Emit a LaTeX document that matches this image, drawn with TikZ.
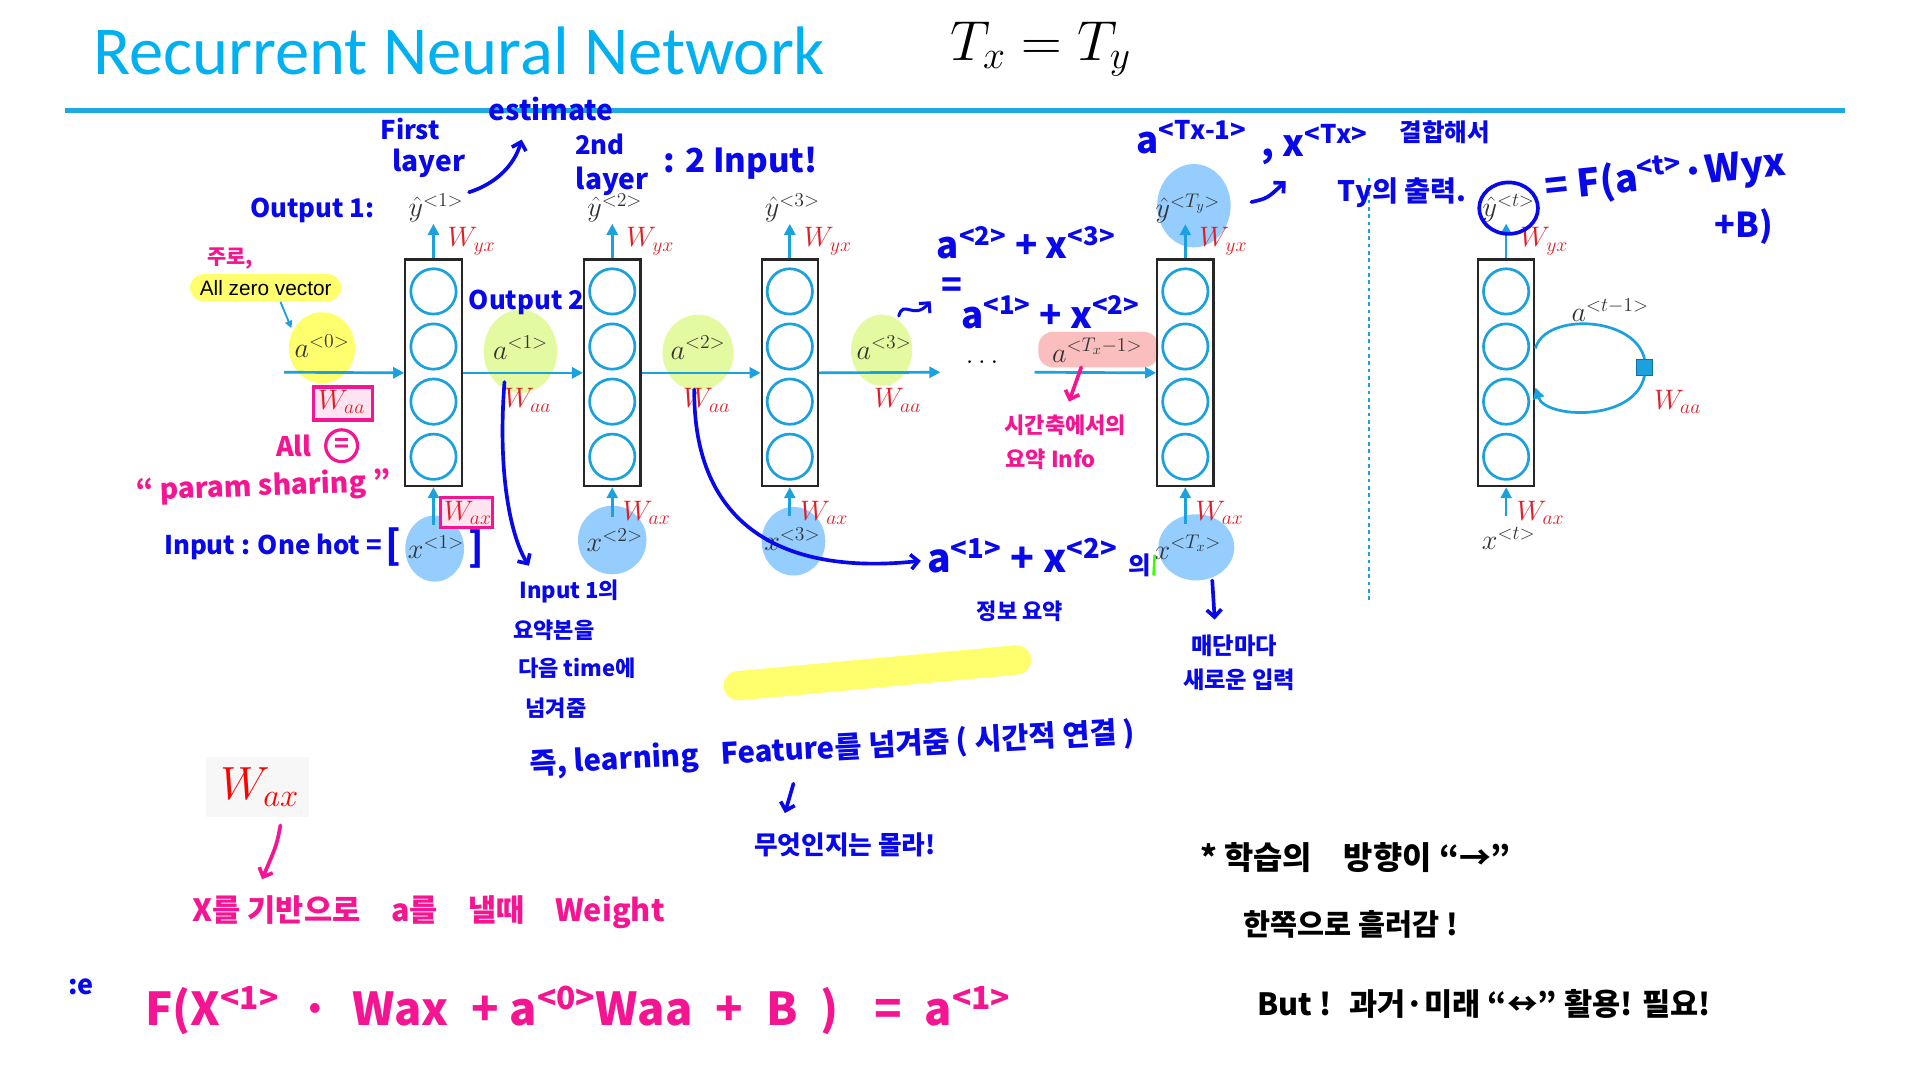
\RequirePackage{fix-cm}
\documentclass[tikz,border=0pt]{standalone}
\usepackage{fontspec}
\setmainfont{Carlito}
\newfontfamily\hand{Noto Sans CJK KR}
\newfontfamily\arialfont{Liberation Sans}
\usetikzlibrary{arrows.meta,positioning}

\definecolor{slidecyan}{RGB}{0,176,240}
\definecolor{rulecyan}{RGB}{30,170,225}
\definecolor{netcyan}{RGB}{27,161,221}
\definecolor{wred}{RGB}{225,30,40}
\definecolor{handblue}{RGB}{8,8,235}
\definecolor{handpink}{RGB}{245,20,145}
\definecolor{yblob}{RGB}{255,255,110}
\definecolor{gblob}{RGB}{228,250,160}
\definecolor{bblob}{RGB}{150,205,255}
\definecolor{rblob}{RGB}{250,190,190}
\definecolor{pboxfill}{RGB}{253,228,240}

\newcommand{\mfont}[1]{\fontsize{#1}{#1}\selectfont}
\newcommand{\hfont}[1]{\hand\bfseries\fontsize{#1}{#1}\selectfont}

\begin{document}
\begin{tikzpicture}[
  x=1pt, y=-1pt,
  cellbox/.style={draw=black!85, line width=1.8pt, minimum width=46pt, minimum height=185pt, inner sep=0pt},
  unit/.style={circle, draw=netcyan, line width=2.2pt, minimum size=37pt, inner sep=0pt},
  flow/.style={netcyan, line width=2.2pt, -{Triangle[length=9pt,width=9pt]}},
  mlab/.style={font=\mfont{23}, text=black!80, inner sep=1pt},
  wlab/.style={font=\mfont{23}, text=wred, inner sep=1pt},
  pbox/.style={draw=handpink, fill=pboxfill, line width=2.6pt},
  zbox/.style={fill=yblob, rounded corners=12pt, font={\arialfont\fontsize{17}{20}\selectfont}, inner xsep=8pt, inner ysep=5pt},
  hb/.style={font={\hfont{#1}}, text=handblue, inner sep=0pt}, hb/.default=20,
  hp/.style={font={\hfont{#1}}, text=handpink, inner sep=0pt}, hp/.default=20,
  hk/.style={font={\hfont{#1}}, text=black, inner sep=0pt}, hk/.default=20,
  pen/.style={handblue, line width=3pt, line cap=round, -{Straight Barb[length=6pt,width=12pt]}},
  ppen/.style={pen, handpink}
]
  \useasboundingbox (0,0) rectangle (1568,882);
  \fill[white] (0,0) rectangle (1568,882);

  % Title
  \node[anchor=west, font=\mfont{56}, text=slidecyan, inner sep=0pt] (title) at (76,42) {Recurrent Neural Network};
  \node[font=\mfont{46}, inner sep=0pt] (txty) at (850,40) {$T_x = T_y$};
  \coordinate (r0) at (53,90);
  \coordinate (r1) at (1507,90);
  \draw[rulecyan, line width=4pt] (r0) -- (r1);
  \draw[netcyan, dashed, line width=1pt] (1118,145) -- (1118,490);

  % Highlights
  \fill[yblob] (263,284) ellipse [x radius=27, y radius=29];
  \fill[gblob] (425,287) ellipse [x radius=30, y radius=34];
  \fill[gblob] (570,288) ellipse [x radius=29, y radius=31];
  \fill[gblob] (720,286) ellipse [x radius=25, y radius=29];
  \fill[rblob, rounded corners=12pt] (848,271) rectangle (946,300);
  \fill[bblob] (355,448) ellipse [x radius=24, y radius=27];
  \fill[bblob] (500,441) ellipse [x radius=28, y radius=28];
  \fill[bblob] (648,442) ellipse [x radius=26, y radius=28];
  \fill[bblob] (977,447) ellipse [x radius=31, y radius=27];
  \fill[bblob] (975,168) ellipse [x radius=30, y radius=34];
  \draw[yblob, line width=24pt, line cap=round] (603,560) -- (830,539);
  \draw[pbox] (256,316) rectangle (304,343);
  \draw[pbox] (360,406) rectangle (402,431);

  % Cells
  \foreach \n/\x in {1/354,2/500,3/645,T/968,t/1230}{
    \node[cellbox] (c\n) at (\x,304.5) {};
    \foreach \k/\y in {1/238,2/283,3/328,4/373}
      \node[unit] (c\n u\k) at (\x,\y) {};
  }

  % Outputs
  \foreach \n/\x/\s in {1/354/1, 2/500/2, 3/645/3, T/968/T_y, t/1230/t}{
    \node[mlab] (y\n) at (\x+2,170) {$\hat{y}^{<\s>}$};
    \node[wlab] (wyx\n) at (\x+31,197) {$W_{yx}$};
    \draw[flow] (c\n.north) -- (c\n.north |- y\n.south);
  }

  % Inputs
  \foreach \n/\x/\s/\yy in {1/354/1/447, 2/500/2/441, 3/645/3/440, T/968/T_x/447, t/1230/t/440}{
    \node[mlab] (x\n) at (\x+2,\yy) {$x^{<\s>}$};
    \node[wlab] (wax\n) at (\x+28,419) {$W_{ax}$};
    \draw[flow] ([yshift=8pt]x\n.north -| c\n.south) -- (c\n.south);
  }

  % Activations
  \node[mlab] (a0) at (263,283) {$a^{<0>}$};
  \node[mlab] (a1) at (425,284) {$a^{<1>}$};
  \node[mlab] (a2) at (570,284) {$a^{<2>}$};
  \node[mlab] (a3) at (722,284) {$a^{<3>}$};
  \node[mlab] (aT) at (896,286) {$a^{<T_x-1>}$};
  \node[wlab] (waa0) at (279,328) {$W_{aa}$};
  \node[wlab] (waa1) at (431,327) {$W_{aa}$};
  \node[wlab] (waa2) at (577,327) {$W_{aa}$};
  \node[wlab] (waa3) at (733,327) {$W_{aa}$};
  \node[font=\mfont{23}, inner sep=0pt] (dots) at (802,296) {$\dots$};
  \coordinate (h0) at (232,304);
  \coordinate (d0) at (768,304);
  \coordinate (d1) at (845,304);
  \draw[flow] (h0) -- (c1.west);
  \draw[flow] (c1.east) -- (c2.west);
  \draw[flow] (c2.east) -- (c3.west);
  \draw[flow] (c3.east) -- (d0);
  \draw[flow] (d1) -- (cT.west);

  % Folded cell
  \node[mlab] (at1) at (1315,253) {$a^{<t-1>}$};
  \node[wlab] (waat) at (1370,328) {$W_{aa}$};
  \node[draw=netcyan!70!black, fill=netcyan, minimum size=13pt, inner sep=0pt, line width=0.8pt] (sq) at (1343,300) {};
  \draw[netcyan, line width=2.2pt] ([yshift=20pt]ct.east) .. controls (1262,255) and (1335,258) .. (sq.north);
  \draw[flow] (sq.south) .. controls (1335,345) and (1262,342) .. ([yshift=-12pt]ct.east);

  % Zero vector note
  \node[zbox] (zero) at (217,235) {All zero vector};
  \coordinate (z1) at (238,268);
  \draw[netcyan, line width=1.5pt, -{Triangle[length=6pt,width=6pt]}] ([xshift=12pt]zero.south) -- (z1);

  % Blue notes
  \node[hb=21] (first) at (335,105) {First};
  \node[hb=23] (layerA) at (350,133) {layer};
  \node[hb=23] (estim) at (450,89) {estimate};
  \coordinate (e0) at (383,157);
  \coordinate (e1) at (426,114);
  \draw[pen] (e0) .. controls (405,150) and (420,135) .. (e1);
  \node[hb=21] (second) at (490,118) {2nd};
  \node[hb=23] (layerB) at (500,148) {layer};
  \node[hb=27] (twoin) at (605,133) {: 2 Input!};
  \node[hb=21] (out1) at (255,172) {Output 1:};
  \node[hb=21] (out2) at (430,247) {Output 2};
  \node[hb=21, anchor=east] (onehot) at (312,447) {Input : One hot =};
  \node[hb=32] (lbr) at (321,447) {[};
  \node[hb=32] (rbr) at (389,448) {]};
  \coordinate (s0) at (412,312);
  \coordinate (s1) at (432,462);
  \draw[pen] (s0) .. controls (406,390) and (418,440) .. (s1);
  \node[hb=18, anchor=west] (sumA) at (424,483) {Input 1의};
  \node[hb=18, anchor=west] (sumB) at (419,515) {요약본을};
  \node[hb=18, anchor=west] (sumC) at (423,546) {다음 time에};
  \node[hb=18, anchor=west] (sumD) at (429,578) {넘겨줌};
  \coordinate (t0) at (567,318);
  \coordinate (t1) at (752,458);
  \draw[pen] (t0) .. controls (566,430) and (640,470) .. (t1);
  \node[hb=32, anchor=west] (combo) at (757,454) {a\textsuperscript{<1>} + x\textsuperscript{<2>}};
  \node[hb=20] (ui) at (931,462) {의};
  \draw[line width=2pt, green!80!yellow] (943,453) -- (942,470);
  \node[hb=18, below=22pt of combo.south, xshift=-2pt] (info) {정보 요약};
  \node[hb=30] (eqA) at (838,198) {a\textsuperscript{<2>} + x\textsuperscript{<3>}};
  \node[hb=28] (eqS) at (777,235) {=};
  \node[hb=30] (eqB) at (858,255) {a\textsuperscript{<1>} + x\textsuperscript{<2>}};
  \coordinate (q0) at (734,258);
  \coordinate (q1) at (760,246);
  \draw[pen, line width=2.5pt] (q0) .. controls (738,244) and (746,262) .. (q1);
  \node[hb=30, anchor=west] (aTx) at (928,112) {a\textsuperscript{<Tx-1>}};
  \node[hb=30, anchor=west] (xTx) at (1030,118) {, x\textsuperscript{<Tx>}};
  \node[hb=20] (join) at (1180,108) {결합해서};
  \coordinate (k0) at (1022,165);
  \coordinate (k1) at (1050,148);
  \draw[pen] (k0) .. controls (1035,162) .. (k1);
  \node[hb=23] (tyout) at (1145,157) {Ty의 출력.};
  \draw[handblue, line width=3pt] (yt.center) ellipse [x radius=24, y radius=21];
  \node[hb=31, anchor=west, rotate=6] (fout) at (1262,154) {= F(a\textsuperscript{<t>}·Wyx};
  \node[hb=28] (fb) at (1424,185) {+B)};
  \coordinate (m0) at (990,474);
  \coordinate (m1) at (992,506);
  \draw[pen] (m0) -- (m1);
  \node[hb=19] (each1) at (1008,527) {매단마다};
  \node[hb=19, below=10pt of each1, xshift=4pt] (each2) {새로운 입력};
  \node[hb=24, rotate=3] (feat) at (680,612) {즉, learning\hspace{18pt}Feature를 넘겨줌 ( 시간적 연결 )};
  \coordinate (f0) at (648,640);
  \coordinate (f1) at (641,664);
  \draw[pen] (f0) -- (f1);
  \node[hb=21] (unk) at (690,690) {무엇인지는 몰라!};
  \node[hb=22] (cut) at (66,806) {:e};

  % Pink notes
  \node[hp=17] (mainly) at (188,211) {주로,};
  \node[hp=22] (allp) at (240,364) {All};
  \node[circle, draw=handpink, line width=2.6pt, minimum size=26pt, inner sep=0pt, text=handpink, font={\hfont{20}}] (eqc) at (279,364) {=};
  \node[hp=23, rotate=2] (share) at (215,398) {“ param sharing ”};
  \coordinate (p0) at (883,300);
  \coordinate (p1) at (873,328);
  \draw[ppen] (p0) -- (p1);
  \node[hp=18] (axis1) at (870,347) {시간축에서의};
  \node[hp=18] (axis2) at (858,375) {요약 Info};
  \fill[gray!6] (168,618) rectangle (252,667);
  \node[font=\mfont{38}, text=red, inner sep=0pt] (wbig) at (212,643) {$W_{ax}$};
  \coordinate (w0) at (229,674);
  \coordinate (w1) at (214,718);
  \draw[ppen] (w0) .. controls (226,690) .. (w1);
  \node[hp=25] (xbase) at (350,745) {X를 기반으로\quad a를\quad 낼때\quad Weight};
  \node[hp=37] (ffirst) at (472,825) {F(X\textsuperscript{<1>}\; · \;Wax\; + a\textsuperscript{<0>}Waa\; + \;B\; )\;\; = \;a\textsuperscript{<1>}};

  % Black notes
  \node[hk=26] (dir1) at (1107,700) {* 학습의\quad 방향이 “→”};
  \node[hk=24] (dir2) at (1103,755) {한쪽으로 흘러감 !};
  \node[hk=25] (dir3) at (1212,820) {But !\; 과거·미래 “↔” 활용! 필요!};
\end{tikzpicture}
\end{document}
